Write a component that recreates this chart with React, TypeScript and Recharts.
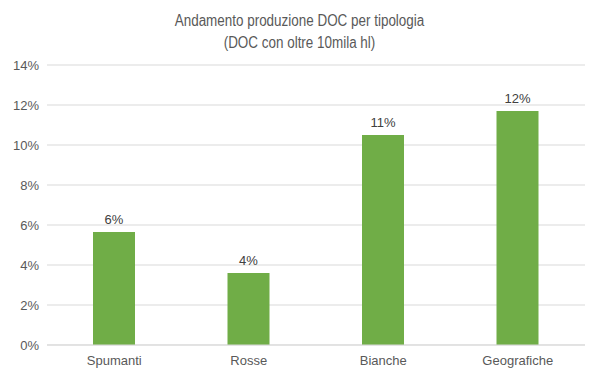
import { Bar, BarChart, CartesianGrid, LabelList, XAxis, YAxis } from "recharts";

// DOC production trend by type (share, %)
const categories = ["Spumanti", "Rosse", "Bianche", "Geografiche"];
const values = [5.65, 3.6, 10.5, 11.7];
const yTicks = [0, 2, 4, 6, 8, 10, 12, 14];

const data = categories.map((name, i) => ({ name, value: values[i] }));

const TEXT = "#595959";
const FONT = "'Liberation Sans', Arial, sans-serif";

export default function App() {
  return (
    <div
      style={{
        position: "absolute",
        left: 0,
        top: 0,
        width: 599,
        height: 378,
        background: "#fff",
        fontFamily: FONT,
      }}
    >
      <div
        style={{
          position: "absolute",
          top: 10,
          left: 0,
          width: 599,
          textAlign: "center",
          color: TEXT,
          fontSize: 16,
          lineHeight: "22px",
          transform: "scaleX(0.84)",
        }}
      >
        Andamento produzione DOC per tipologia
        <br />
        (DOC con oltre 10mila hl)
      </div>
      <BarChart
        width={599}
        height={378}
        data={data}
        margin={{ top: 65, right: 14, bottom: 0, left: 0 }}
        barSize={42}
      >
        <CartesianGrid vertical={false} stroke="#d9d9d9" />
        <XAxis
          dataKey="name"
          height={33}
          axisLine={{ stroke: "#d9d9d9" }}
          tickLine={false}
          tickMargin={5}
          tick={{ fill: TEXT, fontSize: 13, fontFamily: FONT }}
        />
        <YAxis
          width={47}
          domain={[0, 14]}
          ticks={yTicks}
          axisLine={false}
          tickLine={false}
          tickFormatter={(v: number) => `${v}%`}
          tick={{ fill: TEXT, fontSize: 13, fontFamily: FONT }}
        />
        <Bar dataKey="value" fill="#70ad47" isAnimationActive={false}>
          <LabelList
            dataKey="value"
            position="top"
            offset={8}
            formatter={(v: number) => `${Math.round(v)}%`}
            style={{ fill: "#404040", fontSize: 13, fontFamily: FONT }}
          />
        </Bar>
      </BarChart>
    </div>
  );
}
